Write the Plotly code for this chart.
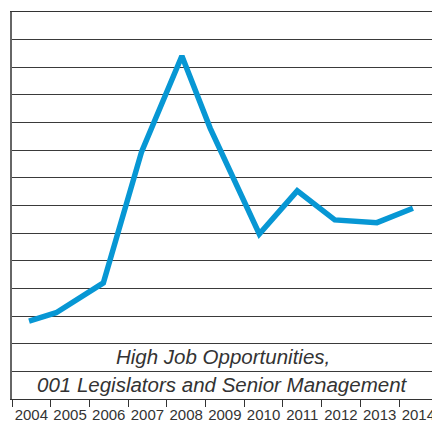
import plotly.graph_objects as go

# Category labels (years) and line data (x as fractional year positions)
years = [2004, 2005, 2006, 2007, 2008, 2009, 2010, 2011, 2012, 2013, 2014]
year_labels = [str(y) for y in years]

x_vals = [2003.94, 2004.64, 2005.86, 2006.85, 2007.89, 2008.62, 2009.89, 2010.87, 2011.84, 2012.93, 2013.86]
y_vals = [2.82, 3.12, 4.20, 8.95, 12.41, 9.80, 5.97, 7.53, 6.48, 6.38, 6.90]

title_lines = ["High Job Opportunities,", "001 Legislators and Senior Management"]

fig = go.Figure()
fig.add_trace(go.Scatter(
    x=x_vals, y=y_vals, mode="lines",
    line=dict(color="#0797d4", width=5.5),
    hoverinfo="skip", showlegend=False,
))

grid_color = "#3a3a3a"
fig.update_layout(
    width=432, height=423,
    margin=dict(l=12, r=0, t=12, b=24),
    paper_bgcolor="white", plot_bgcolor="white",
    font=dict(family="Liberation Sans, Arial, sans-serif", color="#333333"),
    xaxis=dict(
        range=[2003.5, 2003.5 + 420 / 38.7],
        tickmode="array", tickvals=years, ticktext=year_labels,
        ticks="", showgrid=False, zeroline=False,
        showline=True, linecolor="#333333", linewidth=1.2, mirror=True,
        tickfont=dict(size=15, color="#333333"),
        ticklabeloverflow="allow",
        minor=dict(tickvals=[y - 0.5 for y in years] + [2014.5], ticks="outside",
                   ticklen=7, tickcolor="#333333", tickwidth=1, showgrid=False),
        automargin=False,
        ticklabelstandoff=2,
    ),
    yaxis=dict(
        range=[0, 14], tickmode="linear", tick0=0, dtick=1,
        showticklabels=False, ticks="",
        showgrid=True, gridcolor=grid_color, gridwidth=1,
        zeroline=False,
        showline=True, linecolor="#666666", linewidth=1.5,
        automargin=False,
    ),
)

fig.add_annotation(text="<i>" + title_lines[0] + "</i>", xref="paper", yref="y",
                   x=0.502, y=1.52, showarrow=False,
                   font=dict(size=20.5, color="#333333"))
fig.add_annotation(text="<i>" + title_lines[1] + "</i>", xref="paper", yref="y",
                   x=0.502, y=0.53, showarrow=False,
                   font=dict(size=20.5, color="#333333"))

fig.write_html("out.html", config={"displayModeBar": False},
               post_script="document.body.style.margin='0';document.body.style.overflow='hidden';")
